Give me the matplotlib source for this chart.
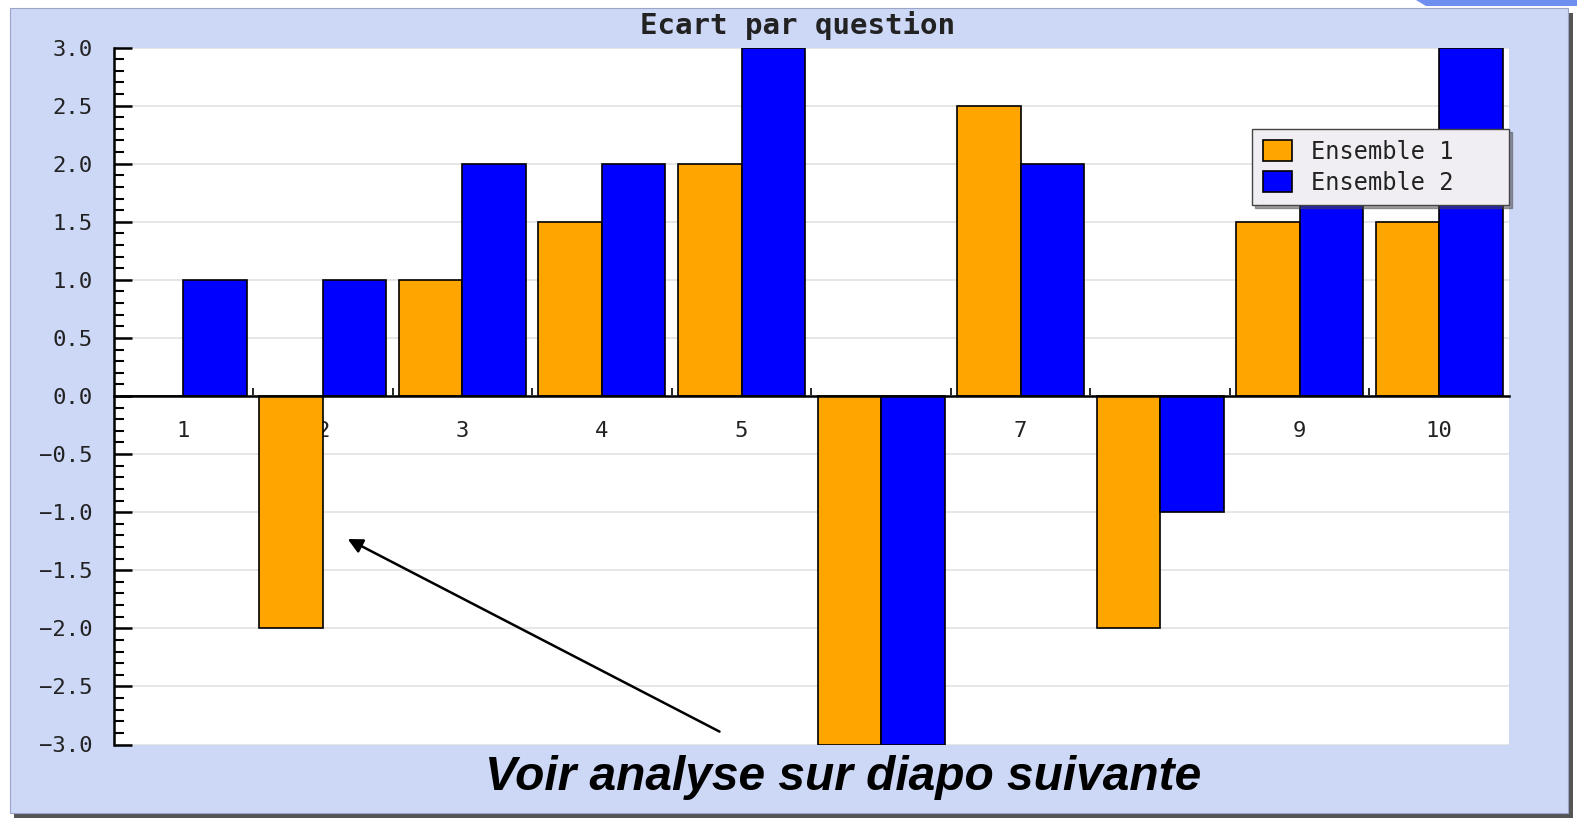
#!/usr/bin/env python3
"""
Ecart par question - grouped bars for two ensembles.
"""

import numpy as np
import matplotlib.pyplot as plt
from matplotlib.patches import Rectangle, Polygon
from matplotlib.ticker import MultipleLocator, FixedLocator

# Data
questions = ['1', '2', '3', '4', '5', '6', '7', '8', '9', '10']
ensemble_1 = [0.0, -2.0, 1.0, 1.5, 2.0, -3.0, 2.5, -2.0, 1.5, 1.5]
ensemble_2 = [1.0, 1.0, 2.0, 2.0, 3.0, -3.0, 2.0, -1.0, 2.0, 3.0]
series_labels = ['Ensemble 1', 'Ensemble 2']
title = 'Ecart par question'
note = 'Voir analyse sur diapo suivante'

W, H = 1577, 819
BG = '#cdd7f6'
MONO = 'DejaVu Sans Mono'


def main():
    fig = plt.figure(figsize=(W / 100, H / 100), dpi=100)
    fig.patch.set_facecolor('white')

    # slide panel with shadow
    fig.patches.append(Rectangle((14 / W, 1 - 818 / H), 1559 / W, 805 / H,
                                 transform=fig.transFigure, facecolor='#555555',
                                 edgecolor='none', zorder=0))
    fig.patches.append(Rectangle((10 / W, 1 - 813 / H), 1558 / W, 805 / H,
                                 transform=fig.transFigure, facecolor=BG,
                                 edgecolor='#9aa4c8', linewidth=0.8, zorder=1))
    fig.patches.append(Polygon([(1416 / W, 1.0), (1577 / W, 1.0), (1577 / W, 1 - 6 / H),
                                (1426 / W, 1 - 6 / H)], closed=True,
                               transform=fig.transFigure, facecolor='#6f8ff0',
                               edgecolor='none', zorder=1))

    ax = fig.add_axes([113.6 / W, 1 - 744.5 / H, 1395.4 / W, 697 / H])
    ax.set_zorder(2)
    ax.set_facecolor('white')

    x = np.arange(1, len(questions) + 1)
    width = 0.455
    ax.bar(x - width / 2, ensemble_1, width, color='#ffa500', edgecolor='black',
           linewidth=1.2, label=series_labels[0], zorder=3)
    ax.bar(x + width / 2, ensemble_2, width, color='#0000ff', edgecolor='black',
           linewidth=1.2, label=series_labels[1], zorder=3)

    ax.set_xlim(0.5, len(questions) + 0.5)
    ax.set_ylim(-3, 3)

    # spines
    for s in ['top', 'right']:
        ax.spines[s].set_visible(False)
    ax.spines['left'].set_linewidth(1.8)
    ax.spines['bottom'].set_position(('data', 0))
    ax.spines['bottom'].set_linewidth(1.8)
    ax.spines['bottom'].set_zorder(4)

    # y axis
    ax.yaxis.set_major_locator(MultipleLocator(0.5))
    ax.yaxis.set_minor_locator(MultipleLocator(0.1))
    ax.set_yticklabels([f'{v:.1f}'.replace('-', '\u2212') for v in ax.get_yticks()])
    ax.tick_params(axis='y', which='major', direction='in', length=13, width=1.8,
                   labelsize=16, pad=15)
    ax.tick_params(axis='y', which='minor', direction='in', length=7, width=1.5)
    for lab in ax.get_yticklabels():
        lab.set_fontfamily(MONO)
        lab.set_color('#222222')

    # x axis: labels under the zero line, small ticks between groups
    ax.set_xticks(x)
    ax.set_xticklabels(questions, fontfamily=MONO, fontsize=16, color='#222222')
    ax.xaxis.set_minor_locator(FixedLocator(np.arange(1.5, len(questions), 1.0)))
    ax.tick_params(axis='x', which='major', length=0, pad=18)
    ax.tick_params(axis='x', which='minor', direction='in', length=6, width=1.2)

    ax.yaxis.grid(True, which='major', color='#e2e2e2', linewidth=1.2)
    ax.set_axisbelow(True)

    fig.text(797 / W, 1 - 26 / H, title, ha='center', va='center',
             fontfamily=MONO, fontweight='bold', fontsize=21, color='#222222', zorder=5)

    leg = ax.legend(loc='upper left', bbox_to_anchor=(0.816, 0.774, 0.184, 0.109),
                    mode='expand', borderaxespad=0,
                    fancybox=False, shadow=True, frameon=True, handlelength=1.25,
                    handleheight=1.0, handletextpad=0.8, borderpad=0.45,
                    labelspacing=0.3, prop={'family': MONO, 'size': 17})
    leg.get_frame().set_facecolor('#f0eef2')
    leg.get_frame().set_edgecolor('#444444')
    leg.get_frame().set_alpha(1.0)
    leg.set_zorder(6)
    for t in leg.get_texts():
        t.set_color('#222222')

    ax.annotate('', xy=(2.16, -1.22), xytext=(4.86, -2.9),
                arrowprops=dict(arrowstyle='-|>', color='black', lw=1.8,
                                mutation_scale=22), zorder=6)

    fig.text(843 / W, 1 - 778 / H, note, ha='center', va='center',
             fontfamily='Liberation Sans', fontweight='bold', fontstyle='italic',
             fontsize=34.5, color='black', zorder=5)

    fig.savefig('out.png', dpi=100)
    plt.close(fig)


if __name__ == '__main__':
    main()
